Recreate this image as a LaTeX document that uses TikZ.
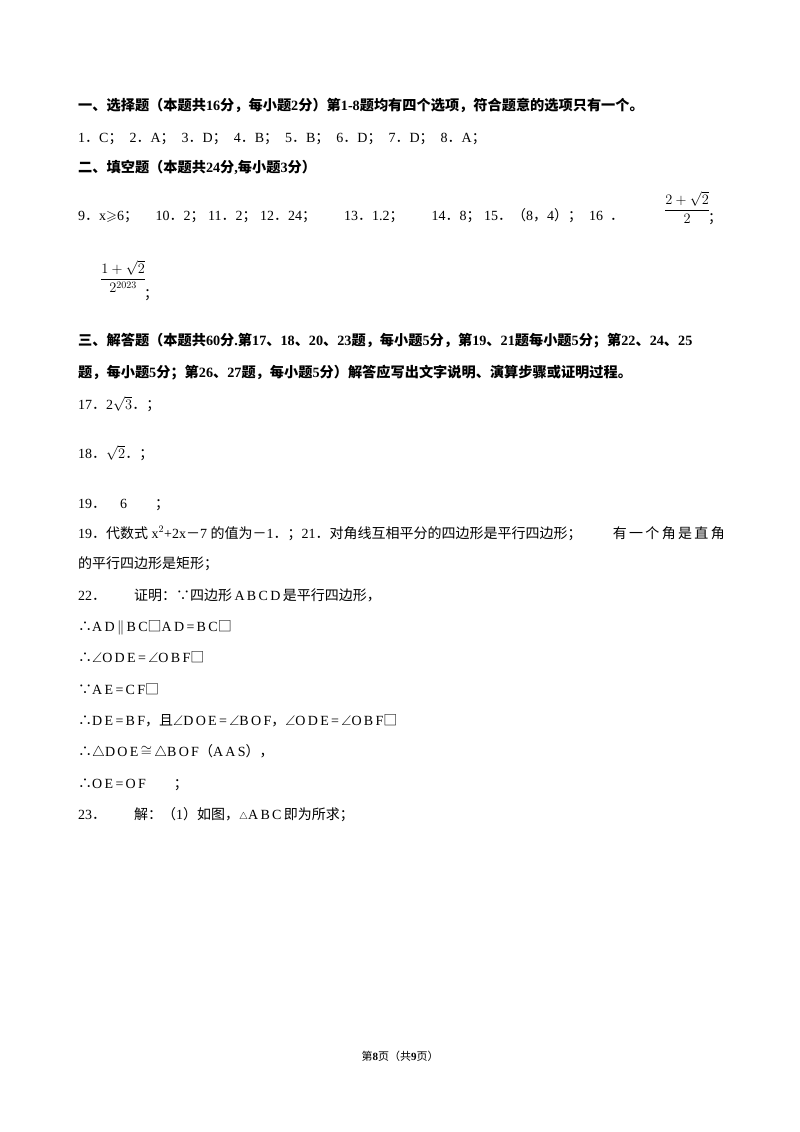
\documentclass[tikz,border=0pt]{standalone}
\usepackage{amssymb}
\usepackage{fontspec}
\setmainfont{Liberation Serif}
\newfontfamily\cjk{Noto Sans CJK SC}
\newcommand\fd{{\cjk ．}}
\newcommand\fs{{\cjk ；}}
\newcommand\fc{{\cjk ，}}
\newcommand\fl{{\cjk （}}
\newcommand\fr{{\cjk ）}}
\newcommand\tf{{\cjk ∴}}
\newcommand\bc{{\cjk ∵}}
\newcommand\bx{{\cjk □}}
\begin{document}
\begin{tikzpicture}[x=1pt,y=-1pt,
  t/.style={anchor=base west,inner sep=0pt,font=\fontsize{14}{16}\selectfont},
  h/.style={t,font=\fontsize{14.2}{16}\selectfont\bfseries}]
\useasboundingbox[fill=white] (0,0) rectangle (800,1132);
\node[h] (l1) at (78,110) {{\cjk\bfseries 一、选择题（本题共}16{\cjk\bfseries 分，每小题}2{\cjk\bfseries 分）第}1-8{\cjk\bfseries 题均有四个选项，符合题意的选项只有一个。}};
\node[t] (l2) at (78,142) {1\fd C\fs\ \ 2\fd A\fs\ \ 3\fd D\fs\ \ 4\fd B\fs\ \ 5\fd B\fs\ \ 6\fd D\fs\ \ 7\fd D\fs\ \ 8\fd A\fs};
\node[h] (l3) at (78,172) {{\cjk\bfseries 二、填空题（本题共}24{\cjk\bfseries 分}{,}{\cjk\bfseries 每小题}3{\cjk\bfseries 分）}};
\node[t] (l4) at (78,220) {9\fd x$\geqslant$6\fs\quad\ 10\fd 2\fs\ 11\fd 2\fs\ 12\fd 24\fs\qquad 13\fd 1.2\fs\qquad 14\fd 8\fs\ 15\fd\fl 8\fc 4\fr\fs\ \ 16\ \ \fd};
\node[t,anchor=base west,font=\fontsize{15}{17}\selectfont] (f16) at (664,214) {$\displaystyle\frac{2+\sqrt{2}}{2}$};
\node[t] (s16) at (708,222) {\fs};
\node[t,anchor=base west,font=\fontsize{14}{16}\selectfont] (f2) at (100,283) {$\displaystyle\frac{1+\sqrt{2}}{2^{2023}}$};
\node[t] (s2) at (144,298) {\fs};
\node[h] (l5) at (78,345) {{\cjk\bfseries 三、解答题（本题共}60{\cjk\bfseries 分}.{\cjk\bfseries 第}17{\cjk\bfseries 、}18{\cjk\bfseries 、}20{\cjk\bfseries 、}23{\cjk\bfseries 题，每小题}5{\cjk\bfseries 分，第}19{\cjk\bfseries 、}21{\cjk\bfseries 题每小题}5{\cjk\bfseries 分；第}22{\cjk\bfseries 、}24{\cjk\bfseries 、}25};
\node[h] (l6) at (78,377) {{\cjk\bfseries 题，每小题}5{\cjk\bfseries 分；第}26{\cjk\bfseries 、}27{\cjk\bfseries 题，每小题}5{\cjk\bfseries 分）解答应写出文字说明、演算步骤或证明过程。}};
\node[t] (l7) at (78,409) {17\fd 2$\sqrt{3}$\fd\fs};
\node[t] (l8) at (78,458) {18\fd$\sqrt{2}$\fd\fs};
\node[t] (l9) at (78,508) {19\fd\quad 6\qquad \fs};
\node[t] (l10) at (78,538) {19\fd{\cjk 代数式} x$^2$+2x{\cjk －}7 {\cjk 的值为}{\cjk －}1\fd\fs 21\fd{\cjk 对角线互相平分的四边形是平行四边形；}};
\node[t,anchor=base east] (l10b) at (725,538) {{\cjk 有\,一\,个\,角\,是\,直\,角}};
\node[t] (l11) at (78,568) {{\cjk 的平行四边形是矩形；}};
\node[t] (l12) at (78,600) {22\fd\qquad {\cjk 证明：∵四边形}\,A\,B\,C\,D\,{\cjk 是平行四边形，}};
\node[t] (l13) at (78,631) {\tf A\,D\,$\parallel$\,B\,C\bx A\,D\,=\,B\,C\bx};
\node[t] (l14) at (78,662) {\tf$\angle$O\,D\,E\,=\,$\angle$O\,B\,F\bx};
\node[t] (l15) at (78,694) {\bc A\,E\,=\,C\,F\bx};
\node[t] (l16) at (78,725) {\tf D\,E\,=\,B\,F\fc{\cjk 且}$\angle$D\,O\,E\,=\,$\angle$B\,O\,F\fc$\angle$O\,D\,E\,=\,$\angle$O\,B\,F\bx};
\node[t] (l17) at (78,756) {\tf$\triangle$D\,O\,E\,$\cong$\,$\triangle$B\,O\,F\fl A\,A\,S\fr\fc};
\node[t] (l18) at (78,788) {\tf O\,E\,=\,O\,F\qquad \fs};
\node[t] (l19) at (78,819) {23\fd\qquad {\cjk 解：（}1{\cjk ）如图，}$\scriptstyle\triangle$A\,B\,C\,{\cjk 即为所求；}};
\node[t,anchor=base,font=\fontsize{11}{13}\selectfont] (ft) at (400,1060) {{\cjk 第}\textbf{8}{\cjk 页（共}\textbf{9}{\cjk 页）}};
\end{tikzpicture}
\end{document}
